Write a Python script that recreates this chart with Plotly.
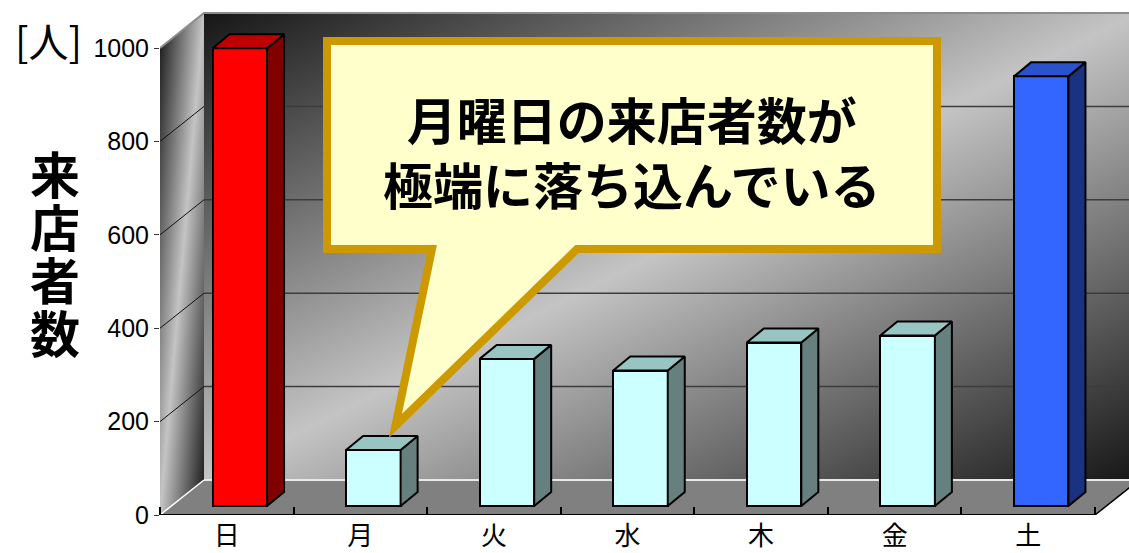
import base64
import plotly.graph_objects as go

# ---- data -------------------------------------------------------------
days = ["日", "月", "火", "水", "木", "金", "土"]
visitors = [980, 120, 315, 290, 350, 365, 920]
y_ticks = [0, 200, 400, 600, 800, 1000]

front_colors = ["#FF0000"] + ["#CCFFFF"] * 5 + ["#3366FF"]
top_colors = ["#C00000"] + ["#99C4C4"] * 5 + ["#2952CC"]
side_colors = ["#800000"] + ["#668080"] * 5 + ["#1A3380"]

# ---- geometry of the pseudo-3D box ------------------------------------
W, H = 1129, 553
L, R, T, B = 160, 1129, 11, 515          # plot area in pixels
CAT_PX = 935 / 7                          # pixels per category
VAL_PX = 0.467                            # pixels per visitor

n = len(days)
idx = list(range(n))
x_range = [-0.5, -0.5 + (R - L) / CAT_PX]
y_range = [0, (B - T) / VAL_PX]


def dx(px):
    return px / CAT_PX


def dy(px):
    return px / VAL_PX


WALL_DX, WALL_DY = dx(44), dy(35)      # depth of the floor / walls
PLANE_DX, PLANE_DY = dx(13), dy(9)     # bars stand a little behind the front edge
BAR_DX, BAR_DY = dx(17), dy(14)        # depth of each bar
BAR_W = dx(54.5)
x_lo, x_hi = -0.5, n - 0.5
top_val = y_ticks[-1]


def paper_x(px):
    return (px - L) / (R - L)


def paper_y(py):
    return (B - py) / (B - T)


def gradient_svg(points):
    svg = (
        '<svg xmlns="http://www.w3.org/2000/svg" width="100" height="100" '
        'viewBox="0 0 100 100" preserveAspectRatio="none">'
        '<defs><linearGradient id="g" x1="0" y1="0" x2="1" y2="1">'
        '<stop offset="0" stop-color="#161616"/>'
        '<stop offset="0.5" stop-color="#c4c4c4"/>'
        '<stop offset="1" stop-color="#161616"/>'
        '</linearGradient></defs>'
        f'<polygon points="{points}" fill="url(#g)"/></svg>'
    )
    return "data:image/svg+xml;base64," + base64.b64encode(svg.encode()).decode()


full_h = top_val + WALL_DY
a = WALL_DY / full_h * 100
b = top_val / full_h * 100
side_wall = gradient_svg(f"0,{a:.3f} 100,0 100,{b:.3f} 0,100")
back_wall = gradient_svg("0,0 100,0 100,100 0,100")

fig = go.Figure()

# floor
fig.add_trace(go.Scatter(
    x=[x_lo, x_hi, x_hi + WALL_DX, x_lo + WALL_DX, x_lo],
    y=[0, 0, WALL_DY, WALL_DY, 0],
    fill="toself", fillcolor="#808080", mode="none", hoverinfo="skip"))
fig.add_trace(go.Scatter(
    x=[x_lo + WALL_DX, x_hi + WALL_DX], y=[WALL_DY, WALL_DY],
    mode="lines", line=dict(color="#e8e8e8", width=2), hoverinfo="skip"))
fig.add_trace(go.Scatter(
    x=[x_lo, x_lo + WALL_DX], y=[0, WALL_DY],
    mode="lines", line=dict(color="#ffffff", width=1.5), hoverinfo="skip"))
fig.add_trace(go.Scatter(
    x=[x_hi, x_hi + WALL_DX], y=[0, WALL_DY],
    mode="lines", line=dict(color="#000000", width=1.5), hoverinfo="skip"))
fig.add_trace(go.Scatter(
    x=[x_lo, x_hi], y=[0, 0],
    mode="lines", line=dict(color="#000000", width=2), hoverinfo="skip"))

# gridlines: diagonal on the side wall, horizontal on the back wall
gx_side, gy_side, gx_back, gy_back = [], [], [], []
for v in y_ticks[1:-1]:
    gx_side += [x_lo, x_lo + WALL_DX, None]
    gy_side += [v, v + WALL_DY, None]
    gx_back += [x_lo + WALL_DX, x_hi + WALL_DX, None]
    gy_back += [v + WALL_DY, v + WALL_DY, None]
fig.add_trace(go.Scatter(x=gx_side, y=gy_side, mode="lines",
                         line=dict(color="#111111", width=1), hoverinfo="skip"))
fig.add_trace(go.Scatter(x=gx_back, y=gy_back, mode="lines",
                         line=dict(color="#3c3c3c", width=1.5), hoverinfo="skip"))
fig.add_trace(go.Scatter(
    x=[x_lo, x_lo + WALL_DX, x_hi + WALL_DX],
    y=[top_val, top_val + WALL_DY, top_val + WALL_DY],
    mode="lines", line=dict(color="#8c8c8c", width=2), hoverinfo="skip"))

# bars: front faces
fig.add_trace(go.Bar(
    x=idx, y=visitors, width=BAR_W,
    marker=dict(color=front_colors, line=dict(color="#000000", width=2)),
    xaxis="x2", yaxis="y2", hoverinfo="skip"))

# bars: side and top faces
for i, v in zip(idx, visitors):
    xl, xr = i - BAR_W / 2, i + BAR_W / 2
    fig.add_trace(go.Scatter(
        x=[xr, xr + BAR_DX, xr + BAR_DX, xr, xr],
        y=[0, BAR_DY, v + BAR_DY, v, 0],
        fill="toself", fillcolor=side_colors[i], mode="lines",
        line=dict(color="#000000", width=2), xaxis="x2", yaxis="y2",
        hoverinfo="skip"))
    fig.add_trace(go.Scatter(
        x=[xl, xr, xr + BAR_DX, xl + BAR_DX, xl],
        y=[v, v, v + BAR_DY, v + BAR_DY, v],
        fill="toself", fillcolor=top_colors[i], mode="lines",
        line=dict(color="#000000", width=2), xaxis="x2", yaxis="y2",
        hoverinfo="skip"))

# callout pointing at Monday's bar
mon = days.index("月")
tip_x = mon + PLANE_DX + dx(22)
tip_y = visitors[mon] + PLANE_DY + dy(24)
bx0, bx1 = x_lo + dx(167), x_lo + dx(777)
by0, by1 = dy(B - 249), dy(B - 41)
tail_l, tail_r = x_lo + dx(272), x_lo + dx(417)
callout = (f"M{bx0},{by1} L{bx1},{by1} L{bx1},{by0} L{tail_r},{by0} "
           f"L{tip_x},{tip_y} L{tail_l},{by0} L{bx0},{by0} Z")

fig.add_shape(type="path", path=callout, xref="x", yref="y", layer="above",
              fillcolor="#FFFFCC", line=dict(color="#CC9900", width=8))

fig.add_annotation(
    x=paper_x(632), y=paper_y(150), xref="paper", yref="paper",
    xanchor="center", yanchor="middle",
    text="<b>月曜日の来店者数が<br>極端に落ち込んでいる</b>",
    showarrow=False, align="center",
    font=dict(family="Noto Sans CJK JP", size=50, color="#000000"))

# axis title, one character per line
for k, ch in enumerate("来店者数"):
    fig.add_annotation(
        x=paper_x(55), y=paper_y(172 + 53 * k), xref="paper", yref="paper",
        xanchor="center", yanchor="middle",
        text=f"<b>{ch}</b>", showarrow=False,
        font=dict(family="Noto Sans CJK JP", size=50, color="#000000"))

fig.add_annotation(
    x=paper_x(48), y=paper_y(40), xref="paper", yref="paper",
    xanchor="center", yanchor="middle",
    text="[人]", showarrow=False,
    font=dict(family="Noto Sans CJK JP", size=40, color="#000000"))

# shaded walls
fig.add_layout_image(dict(
    source=side_wall, xref="x", yref="y", x=x_lo, y=full_h,
    sizex=WALL_DX, sizey=full_h, xanchor="left", yanchor="top",
    sizing="stretch", layer="below"))
fig.add_layout_image(dict(
    source=back_wall, xref="x", yref="y", x=x_lo + WALL_DX, y=full_h,
    sizex=x_hi - x_lo, sizey=top_val, xanchor="left", yanchor="top",
    sizing="stretch", layer="below"))

fig.update_layout(
    width=W, height=H,
    margin=dict(l=L, r=W - R, t=T, b=H - B),
    paper_bgcolor="#ffffff", plot_bgcolor="rgba(0,0,0,0)",
    showlegend=False, bargap=0,
    xaxis=dict(
        range=x_range, tickvals=idx, ticktext=days, ticks="",
        showgrid=False, zeroline=False, showline=False, automargin=False,
        tickfont=dict(family="Noto Sans CJK JP", size=26, color="#000000"),
        ticklabelstandoff=3,
        minor=dict(tickvals=[i + 0.5 for i in range(-1, n)], ticks="inside",
                   ticklen=8, tickcolor="#000000", tickwidth=1.5,
                   showgrid=False)),
    yaxis=dict(
        range=y_range, tickvals=y_ticks, ticks="outside", ticklen=5,
        tickcolor="#333333", showgrid=False, zeroline=False, showline=False,
        automargin=False,
        tickfont=dict(family="Liberation Sans", size=25, color="#000000")),
    xaxis2=dict(overlaying="x", anchor="y2",
                range=[x_range[0] - PLANE_DX, x_range[1] - PLANE_DX],
                visible=False),
    yaxis2=dict(overlaying="y", anchor="x2",
                range=[y_range[0] - PLANE_DY, y_range[1] - PLANE_DY],
                visible=False),
)

fig.write_html("out.html")
